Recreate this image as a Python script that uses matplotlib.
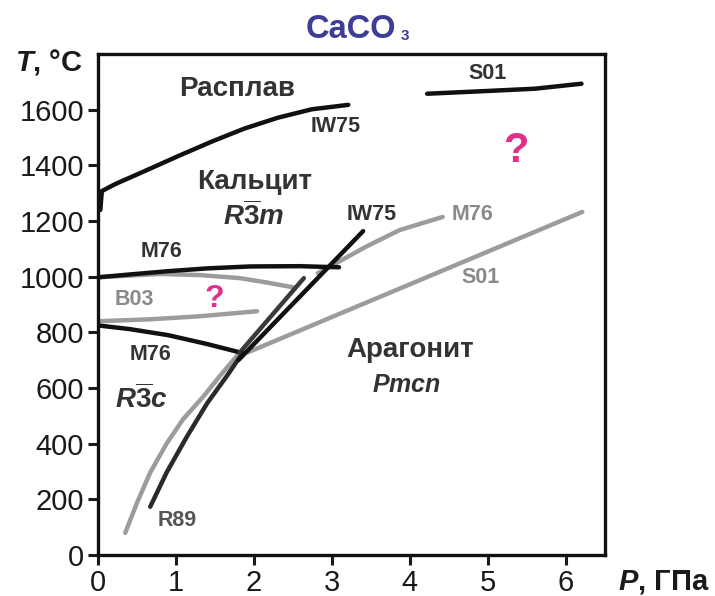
import matplotlib.pyplot as plt

plt.rcParams['font.family'] = ['Liberation Sans', 'DejaVu Sans']
plt.rcParams['mathtext.fontset'] = 'custom'
plt.rcParams['mathtext.it'] = 'Liberation Sans:italic:bold'
plt.rcParams['mathtext.rm'] = 'Liberation Sans:bold'
plt.rcParams['mathtext.bf'] = 'Liberation Sans:italic:bold'

# melting curves
melt_iw75_p = [0.03, 0.05, 0.22, 0.60, 1.03, 1.46, 1.88, 2.31, 2.74, 3.21]
melt_iw75_t = [1240, 1308, 1333, 1380, 1434, 1486, 1533, 1572, 1602, 1618]
melt_s01_p = [4.22, 5.0, 5.6, 6.2]
melt_s01_t = [1658, 1668, 1676, 1694]

# calcite polymorph boundaries
m76_upper_p = [0.0, 0.4, 0.9, 1.4, 1.95, 2.59, 3.09]
m76_upper_t = [998, 1008, 1020, 1030, 1037, 1038, 1034]
m76_upper_gray_p = [0.0, 0.8, 1.31, 1.82, 2.15, 2.5]
m76_upper_gray_t = [998, 1010, 1006, 995, 980, 962]
b03_p = [0.0, 0.67, 1.31, 2.04]
b03_t = [840, 847, 858, 876]
m76_lower_p = [0.0, 0.4, 0.9, 1.4, 1.82]
m76_lower_t = [825, 812, 790, 758, 728]

# calcite - aragonite boundaries
m76_ca_p = [0.35, 0.50, 0.67, 0.88, 1.09, 1.35, 1.56, 1.82]
m76_ca_t = [79, 187, 296, 400, 487, 569, 642, 728]
m76_ca_hi_p = [1.82, 2.64]
m76_ca_hi_t = [728, 995]
m76_arag_p = [2.82, 3.10, 3.45, 3.87, 4.42]
m76_arag_t = [1013, 1056, 1110, 1168, 1215]
r89_p = [0.67, 0.88, 1.14, 1.40, 1.65, 1.86]
r89_t = [173, 296, 425, 545, 642, 728]
iw75_p = [1.80, 3.40]
iw75_t = [700, 1164]
s01_arag_p = [1.92, 6.21]
s01_arag_t = [728, 1233]

p_ticks = [0, 1, 2, 3, 4, 5, 6]
t_ticks = [0, 200, 400, 600, 800, 1000, 1200, 1400, 1600]

black = '#111111'
gray = '#9c9c9c'
lw = 3.2
style = dict(lw=lw, solid_capstyle='round', solid_joinstyle='round')

fig = plt.figure(figsize=(7.15, 5.96), dpi=100)
ax = fig.add_axes([0.137, 0.069, 0.709, 0.840])

ax.plot(melt_iw75_p, melt_iw75_t, color=black, **style)
ax.plot(melt_s01_p, melt_s01_t, color=black, **style)

ax.plot(m76_upper_gray_p, m76_upper_gray_t, color=gray, **style)
ax.plot(b03_p, b03_t, color=gray, **style)
ax.plot(m76_ca_p, m76_ca_t, color=gray, **style)
ax.plot(m76_arag_p, m76_arag_t, color=gray, **style)
ax.plot(s01_arag_p, s01_arag_t, color=gray, **style)

ax.plot(m76_upper_p, m76_upper_t, color=black, **style)
ax.plot(m76_lower_p, m76_lower_t, color=black, **style)
ax.plot(m76_ca_hi_p, m76_ca_hi_t, color='#3a3a3a', **style)
ax.plot(r89_p, r89_t, color='#2a2a2a', **style)
ax.plot(iw75_p, iw75_t, color=black, **style)

ax.set_xlim(0, 6.5)
ax.set_ylim(0, 1800)
ax.set_xticks(p_ticks)
ax.set_yticks(t_ticks)
ax.tick_params(labelsize=21, width=2.2, length=7, direction='out', pad=3,
               colors='#1a1a1a')
for sp in ax.spines.values():
    sp.set_linewidth(2.4)
    sp.set_color('#111111')

# phase field names
dark = '#333333'
big = 20
ax.text(1.79, 1676, 'Расплав', fontsize=big, fontweight='bold', color=dark,
        ha='center', va='center')
ax.text(2.01, 1340, 'Кальцит', fontsize=big, fontweight='bold', color=dark,
        ha='center', va='center')
ax.text(1.99, 1218, r'$R\overline{3}m$', fontsize=20, color=dark,
        ha='center', va='center')
ax.text(4.0, 735, 'Арагонит', fontsize=big, fontweight='bold', color=dark,
        ha='center', va='center')
ax.text(3.95, 609, r'$Pmcn$', fontsize=18, color=dark,
        ha='center', va='center')
ax.text(0.56, 560, r'$R\overline{3}c$', fontsize=20, color=dark,
        ha='center', va='center')

# source labels
small = 15.5
ax.text(3.05, 1539, 'IW75', fontsize=small, fontweight='bold', color=dark,
        ha='center', va='center')
ax.text(4.99, 1730, 'S01', fontsize=small, fontweight='bold', color=dark,
        ha='center', va='center')
ax.text(3.51, 1225, 'IW75', fontsize=small, fontweight='bold', color=dark,
        ha='center', va='center')
ax.text(4.80, 1225, 'M76', fontsize=small, fontweight='bold', color='#8a8a8a',
        ha='center', va='center')
ax.text(4.90, 998, 'S01', fontsize=small, fontweight='bold', color='#8a8a8a',
        ha='center', va='center')
ax.text(0.82, 1092, 'M76', fontsize=small, fontweight='bold', color=dark,
        ha='center', va='center')
ax.text(0.46, 919, 'B03', fontsize=small, fontweight='bold', color='#8a8a8a',
        ha='center', va='center')
ax.text(0.68, 721, 'M76', fontsize=small, fontweight='bold', color=dark,
        ha='center', va='center')
ax.text(1.01, 122, 'R89', fontsize=small, fontweight='bold', color='#555555',
        ha='center', va='center')

# open questions
ax.text(5.36, 1452, '?', fontsize=30, fontweight='bold', color='#e0308a',
        ha='center', va='center')
ax.text(1.49, 919, '?', fontsize=23, fontweight='bold', color='#e0308a',
        ha='center', va='center')

fig.text(0.491, 0.951, 'CaCO', fontsize=23.5, fontweight='bold',
         color='#3d3d96', ha='center', va='center')
fig.text(0.566, 0.940, '3', fontsize=11, fontweight='bold',
         color='#3d3d96', ha='center', va='center')
fig.text(0.068, 0.896, r'$T$, °C', fontsize=21, fontweight='bold',
         color='#1a1a1a', ha='center', va='center')
fig.text(0.928, 0.023, r'$P$, ГПа', fontsize=21, fontweight='bold',
         color='#1a1a1a', ha='center', va='center')

fig.savefig('out.png', dpi=100)
